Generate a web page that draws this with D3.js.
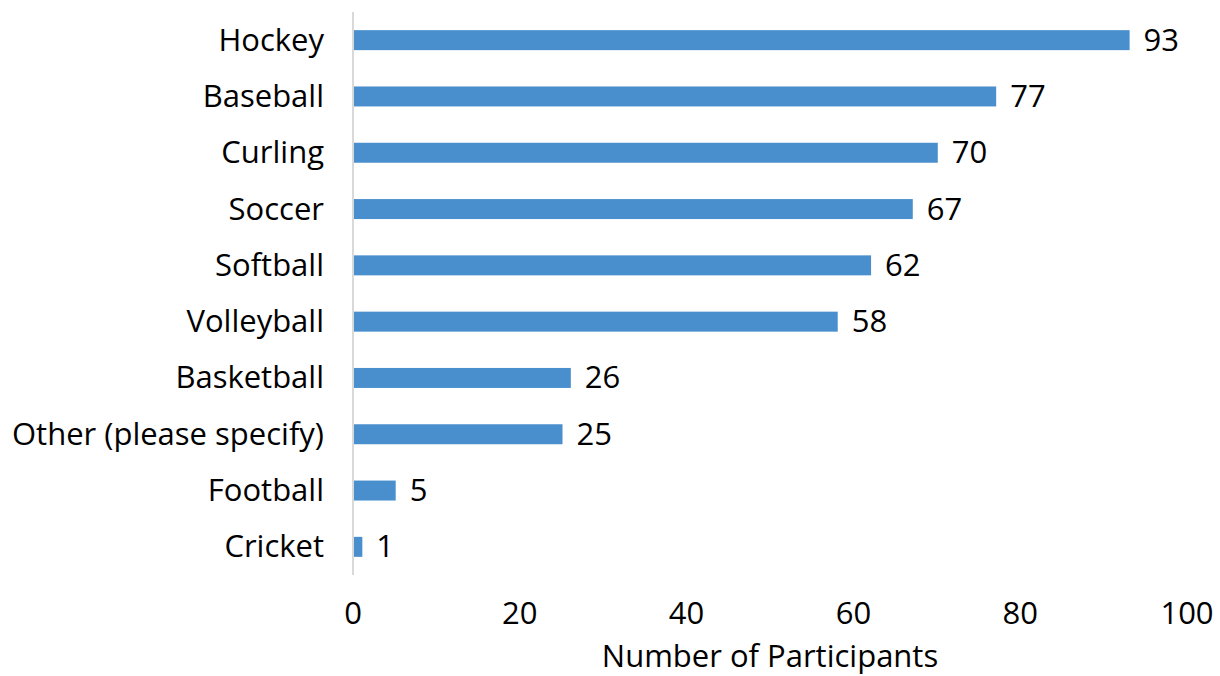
<!DOCTYPE html>
<html><head><meta charset="utf-8">
<script src="https://cdn.jsdelivr.net/npm/d3@7"></script>
<style>body{margin:0;background:#fff}svg text{font-family:"Open Sans",Lato,sans-serif;fill:#000}</style>
</head><body>
<svg id="c" width="1220" height="676"></svg>
<script>
const categories = ["Hockey","Baseball","Curling","Soccer","Softball","Volleyball","Basketball","Other (please specify)","Football","Cricket"];
const values = [93,77,70,67,62,58,26,25,5,1];
const xTicks = [0,20,40,60,80,100];
const xTitle = "Number of Participants";

const FS = 31;
const svg = d3.select("#c");
const x = d3.scaleLinear().domain([0,100]).range([353,1187]);
const y = d3.scaleBand().domain(categories).range([12,575]).paddingInner(0.645).paddingOuter(0.3225);

svg.append("line").attr("x1",x(0)).attr("x2",x(0)).attr("y1",12).attr("y2",575)
  .attr("stroke","#d9d9d9").attr("stroke-width",2);

svg.selectAll("rect.bar").data(values).join("rect").attr("class","bar")
  .attr("x",x(0)+1).attr("y",(d,i)=>y(categories[i]))
  .attr("width",d=>x(d)-x(0)).attr("height",y.bandwidth())
  .attr("fill","#4a8fcd");

svg.selectAll("text.val").data(values).join("text").attr("class","val")
  .attr("x",d=>x(d)+15).attr("y",(d,i)=>y(categories[i])+y.bandwidth()/2)
  .attr("dy","0.34em").attr("font-size",FS).text(d=>d);

svg.selectAll("text.cat").data(categories).join("text").attr("class","cat")
  .attr("x",324).attr("y",d=>y(d)+y.bandwidth()/2)
  .attr("dy","0.34em").attr("text-anchor","end").attr("font-size",FS).text(d=>d);

svg.selectAll("text.tick").data(xTicks).join("text").attr("class","tick")
  .attr("x",d=>x(d)).attr("y",624)
  .attr("text-anchor","middle").attr("font-size",FS).text(d=>d);

svg.append("text").attr("x",770).attr("y",667)
  .attr("text-anchor","middle").attr("font-size",FS).text(xTitle);
</script>
</body></html>
